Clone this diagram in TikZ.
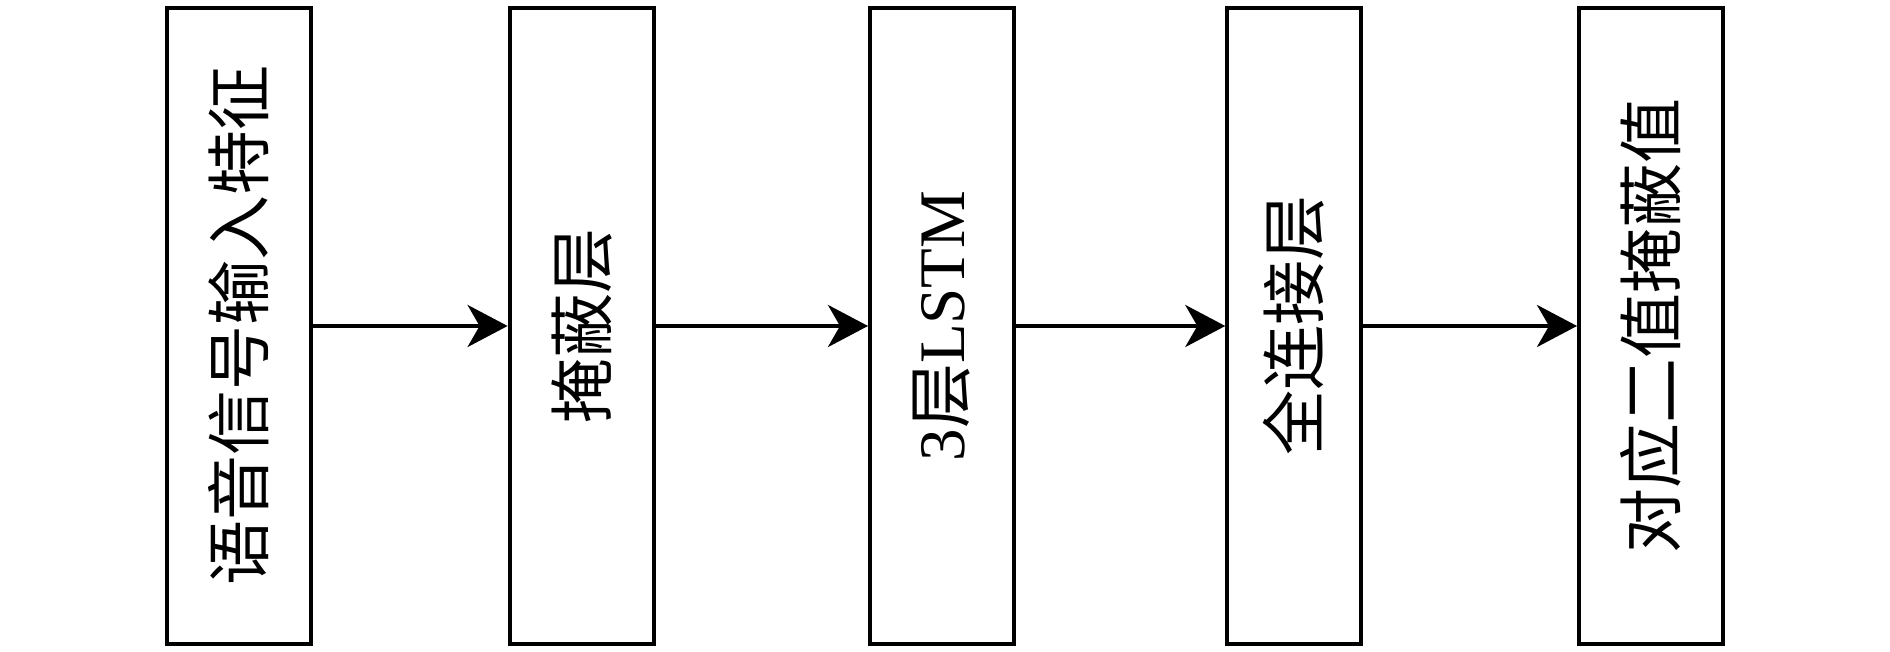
\documentclass[tikz,border=0pt]{standalone}
\usepackage{fontspec}
\setmainfont{Liberation Serif}
\newfontfamily\cjk{Noto Sans CJK SC}
\usetikzlibrary{arrows.meta}

\begin{document}
\begin{tikzpicture}[x=1pt,y=1pt,
    layerbox/.style={draw, line width=2pt, rotate=90, inner sep=0pt,
        minimum width=318pt, minimum height=72pt,
        font=\fontsize{32.5}{39}\selectfont},
    flow/.style={line width=2pt, -{Stealth[length=20pt,width=21pt,inset=6pt]}}]
\useasboundingbox (0,0) rectangle (945,326);

% Layers
\node[layerbox] (feat) at (119.5,163) {\cjk 语音信号输入特征};
\node[layerbox] (mask) at (290.8,163) {\cjk 掩蔽层};
\node[layerbox] (lstm) at (471,163) {3{\cjk 层}LSTM};
\node[layerbox, minimum height=66.7pt] (fc) at (647,163) {\cjk 全连接层};
\node[layerbox] (out) at (825.5,163) {\cjk 对应二值掩蔽值};

% Arrows
\draw[flow] (feat) -- (mask);
\draw[flow] (mask) -- (lstm);
\draw[flow] (lstm) -- (fc);
\draw[flow] (fc) -- (out);
\end{tikzpicture}
\end{document}
